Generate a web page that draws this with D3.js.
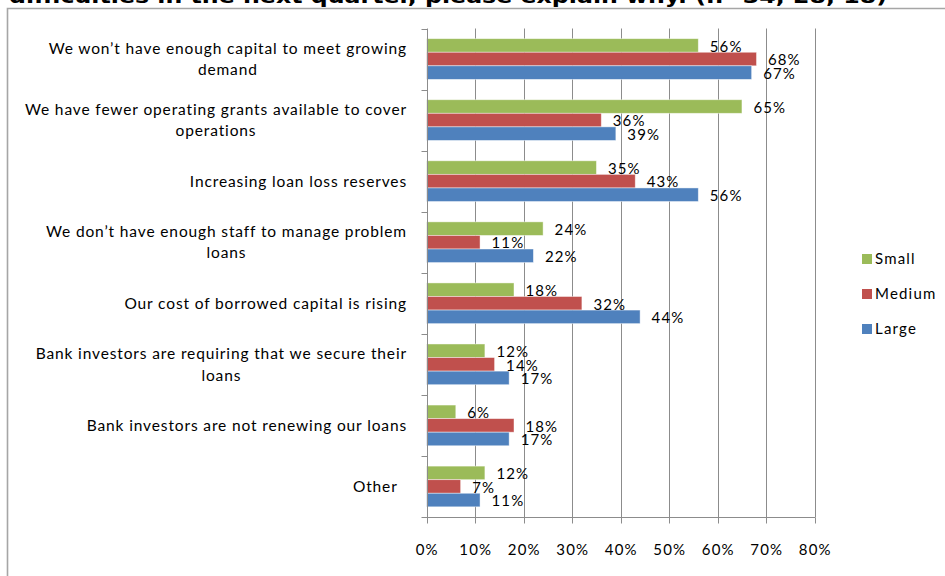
<!DOCTYPE html>
<html>
<head>
<meta charset="utf-8">
<script src="https://cdn.jsdelivr.net/npm/d3@7/dist/d3.min.js"></script>
<style>
  html, body { margin: 0; padding: 0; background: #fff; }
  svg { display: block; }
  text { font-family: Lato, "Open Sans", sans-serif; fill: #000; white-space: pre; }
</style>
</head>
<body>
<svg id="chart" width="945" height="576"></svg>
<script>
// Survey reasons, one entry per row (wrapped rows are split into lines)
const categories = [
  ["We won\u2019t have enough capital to meet growing", "demand"],
  ["We have fewer operating grants available to cover", "operations"],
  ["Increasing loan loss reserves"],
  ["We don\u2019t have enough staff to manage problem", "loans"],
  ["Our cost of borrowed capital is rising"],
  ["Bank investors are requiring that we secure their", "loans"],
  ["Bank investors are not renewing our loans"],
  ["Other  "]
];
const seriesNames = ["Small", "Medium", "Large"];
const small  = [56, 65, 35, 24, 18, 12, 6, 12];
const medium = [68, 36, 43, 11, 32, 14, 18, 7];
const large  = [67, 39, 56, 22, 44, 17, 17, 11];
const xTicks = [0, 10, 20, 30, 40, 50, 60, 70, 80];
const titleText = "difficulties in the next quarter, please explain why. (n=34, 28, 18)";

const colors = { Small: "#9BBB59", Medium: "#C0504D", Large: "#4F81BD" };
const values = { Small: small, Medium: medium, Large: large };

const svg = d3.select("#chart");

// Title line (top of it runs off the page)
svg.append("text")
  .attr("x", 9).attr("y", 2.5)
  .attr("textLength", 878).attr("lengthAdjust", "spacingAndGlyphs")
  .style("font-family", "'DejaVu Sans', Verdana, sans-serif")
  .style("font-weight", "bold").style("font-size", "19px")
  .text(titleText);

// Chart frame
svg.append("path")
  .attr("d", "M7.5,576 V8.5 H945")
  .attr("fill", "none").attr("stroke", "#A6A6A6").attr("stroke-width", 1.6);

const plot = { left: 426.7, right: 814.7, top: 28.5, bottom: 517 };

const x = d3.scaleLinear().domain([0, 80]).range([plot.left, plot.right]);
const y = d3.scaleBand().domain(d3.range(categories.length))
  .range([plot.top, plot.bottom]).paddingInner(0).paddingOuter(0);
const ySub = d3.scaleBand().domain(seriesNames)
  .range([0, y.bandwidth()]).paddingInner(0).paddingOuter(0.75);

// Vertical gridlines
svg.append("g").selectAll("line")
  .data(xTicks.slice(1))
  .join("line")
  .attr("x1", d => Math.round(x(d)) + 0.5).attr("x2", d => Math.round(x(d)) + 0.5)
  .attr("y1", plot.top).attr("y2", plot.bottom)
  .attr("stroke", "#8C8C8C").attr("stroke-width", 1);

// Bars
const rows = svg.append("g").selectAll("g")
  .data(categories.map((c, i) => i))
  .join("g")
  .attr("transform", i => `translate(0,${y(i)})`);

rows.selectAll("rect")
  .data(i => seriesNames.map(s => ({ s, v: values[s][i] })))
  .join("rect")
  .attr("x", x(0))
  .attr("y", d => ySub(d.s))
  .attr("width", d => x(d.v) - x(0))
  .attr("height", ySub.bandwidth())
  .attr("fill", d => colors[d.s])
  .attr("stroke", "rgba(255,255,255,0.55)").attr("stroke-width", 0.8);

// Value labels
rows.selectAll("text.val")
  .data(i => seriesNames.map(s => ({ s, v: values[s][i] })))
  .join("text")
  .attr("class", "val")
  .attr("x", d => x(d.v) + 11.5)
  .attr("y", d => ySub(d.s) + ySub.bandwidth() / 2 + 1)
  .attr("dy", "0.35em")
  .style("font-size", "15px").style("letter-spacing", "1.1px")
  .text(d => d.v + "%");

// Category axis line with ticks at band edges
const xAxisX = Math.round(x(0)) + 0.5;
svg.append("line")
  .attr("x1", xAxisX).attr("x2", xAxisX)
  .attr("y1", plot.top).attr("y2", plot.bottom)
  .attr("stroke", "#8C8C8C");
svg.append("g").selectAll("line")
  .data(d3.range(categories.length + 1))
  .join("line")
  .attr("x1", xAxisX - 6).attr("x2", xAxisX)
  .attr("y1", i => Math.round(plot.top + i * y.step()) + 0.5)
  .attr("y2", i => Math.round(plot.top + i * y.step()) + 0.5)
  .attr("stroke", "#8C8C8C");

// Value axis
const axisY = Math.round(plot.bottom) + 0.5;
svg.append("line")
  .attr("x1", plot.left).attr("x2", Math.round(x(80)) + 0.5)
  .attr("y1", axisY).attr("y2", axisY)
  .attr("stroke", "#8C8C8C");
svg.append("g").selectAll("line")
  .data(xTicks)
  .join("line")
  .attr("x1", d => Math.round(x(d)) + 0.5).attr("x2", d => Math.round(x(d)) + 0.5)
  .attr("y1", axisY).attr("y2", axisY + 6)
  .attr("stroke", "#8C8C8C");
svg.append("g").selectAll("text")
  .data(xTicks)
  .join("text")
  .attr("x", d => x(d) + 0.5).attr("y", 550)
  .attr("dy", "0.35em")
  .attr("text-anchor", "middle")
  .style("font-size", "15px").style("letter-spacing", "1.1px")
  .text(d => d + "%");

// Category labels: wrapped lines centred on each other, block right-aligned
const lineGap = 21.7;
const catG = svg.append("g");
categories.forEach((lines, i) => {
  const cy = y(i) + y.bandwidth() / 2;
  const g = catG.append("g");
  const texts = lines.map((ln, k) => g.append("text")
    .attr("y", cy + (k - (lines.length - 1) / 2) * lineGap)
    .attr("dy", "0.35em")
    .attr("text-anchor", "middle")
    .style("font-size", "15.5px").style("letter-spacing", "0.87px")
    .text(ln));
  const widest = d3.max(texts, t => t.node().getComputedTextLength());
  texts.forEach(t => t.attr("x", 407 - widest / 2));
});

// Legend
const legend = svg.append("g").selectAll("g")
  .data(seriesNames)
  .join("g")
  .attr("transform", (d, i) => `translate(862,${259 + i * 35})`);
legend.append("rect")
  .attr("x", 0).attr("y", -5).attr("width", 10).attr("height", 10)
  .attr("fill", d => colors[d]);
legend.append("text")
  .attr("x", 13).attr("y", 0).attr("dy", "0.35em")
  .style("font-size", "15px").style("letter-spacing", "1.2px")
  .text(d => d);
</script>
</body>
</html>
